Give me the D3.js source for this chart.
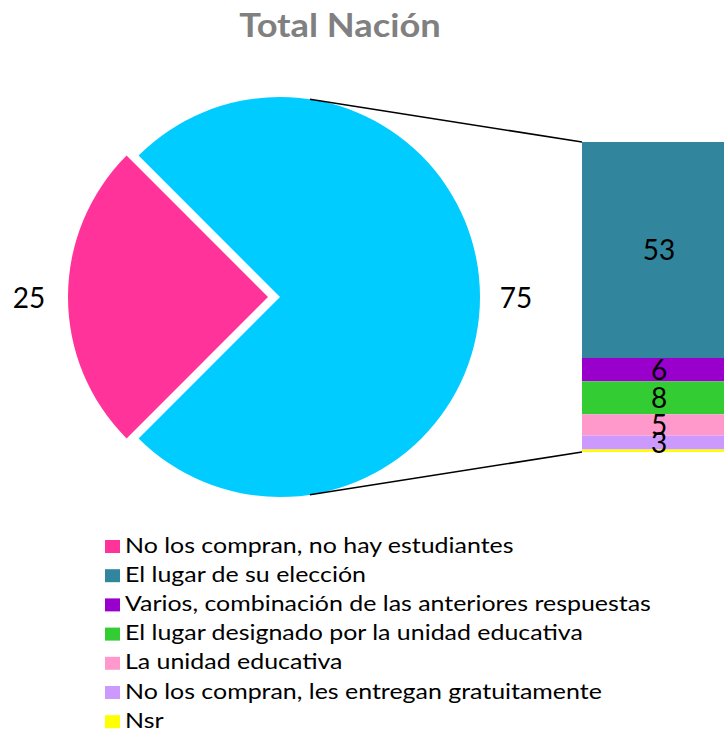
<!DOCTYPE html>
<html><head><meta charset="utf-8">
<script src="https://cdn.jsdelivr.net/npm/d3@7"></script>
<style>body{margin:0;background:#fff}</style>
</head><body>
<svg id="c" width="724" height="734"></svg>
<script>
const title = "Total Nación";
const pieCategories = ["No los compran, no hay estudiantes", "Otros"];
const pieValues = [25, 75];
const pieColors = ["#FF3399", "#00CCFF"];
const barCategories = ["El lugar de su elección", "Varios, combinación de las anteriores respuestas", "El lugar designado por la unidad educativa", "La unidad educativa", "No los compran, les entregan gratuitamente", "Nsr"];
const barValues = [52.6, 5.7, 8.0, 5.2, 3.4, 0.6];
const barLabels = ["53", "6", "8", "5", "3", ""];
const barColors = ["#31859C", "#9900CC", "#33CC33", "#FF99CC", "#CC99FF", "#FFFF00"];
const legendLabels = ["No los compran, no hay estudiantes", ...barCategories];
const legendColors = ["#FF3399", ...barColors];

const svg = d3.select("#c");
const font = "Lato, 'Open Sans', sans-serif";

function stretchedText(parent, x, y, sx, txt) {
  return parent.append("text")
    .attr("transform", `translate(${x},${y}) scale(${sx},1)`)
    .attr("font-family", font).text(txt);
}

stretchedText(svg, 340, 37, 1.1, title).attr("text-anchor", "middle")
  .attr("font-weight", "bold").attr("font-size", 33).attr("fill", "#808080");

// Pie
const cx = 280, cy = 297, R = 200;
const arcs = d3.pie().sort(null).startAngle(5*Math.PI/4).endAngle(5*Math.PI/4 + 2*Math.PI)(pieValues);
const arc = d3.arc().innerRadius(0).outerRadius(R);
const g = svg.append("g").attr("transform", `translate(${cx},${cy})`);
g.selectAll("path").data(arcs).join("path")
  .attr("d", arc)
  .attr("fill", (d, i) => pieColors[i])
  .attr("transform", (d, i) => {
    if (i !== 0) return null;
    const mid = (d.startAngle + d.endAngle) / 2;
    const off = 12;
    return `translate(${off*Math.sin(mid)},${-off*Math.cos(mid)})`;
  });

// pie labels
svg.append("text").attr("x", 29).attr("y", 308).attr("text-anchor", "middle")
  .attr("font-family", font).attr("font-size", 28).text(String(pieValues[0]));
svg.append("text").attr("x", 516).attr("y", 308).attr("text-anchor", "middle")
  .attr("font-family", font).attr("font-size", 28).text(String(pieValues[1]));

// Bar of pie
const total = d3.sum(barValues);
const y = d3.scaleLinear().domain([0, total]).range([142, 452]);
const bx = 582, bw = 160;
let cum = 0;
const stacks = barValues.map((v, i) => { const s = {v, i, y0: cum, y1: cum + v}; cum += v; return s; });
svg.selectAll("rect.seg").data(stacks).join("rect").attr("class", "seg")
  .attr("x", bx).attr("width", bw)
  .attr("y", d => y(d.y0)).attr("height", d => y(d.y1) - y(d.y0))
  .attr("fill", d => barColors[d.i]);
svg.selectAll("text.seg").data(stacks.filter(d => barLabels[d.i])).join("text").attr("class", "seg")
  .attr("x", 659).attr("y", d => (y(d.y0) + y(d.y1)) / 2 + 10)
  .attr("text-anchor", "middle").attr("font-family", font).attr("font-size", 28)
  .text(d => barLabels[d.i]);

// connector lines
const a1 = 8.6 * Math.PI / 180, a2 = 171.4 * Math.PI / 180;
svg.append("line").attr("x1", cx + R*Math.sin(a1)).attr("y1", cy - R*Math.cos(a1))
  .attr("x2", bx).attr("y2", y(0)).attr("stroke", "#000").attr("stroke-width", 1.5);
svg.append("line").attr("x1", cx + R*Math.sin(a2)).attr("y1", cy - R*Math.cos(a2))
  .attr("x2", bx).attr("y2", y(total)).attr("stroke", "#000").attr("stroke-width", 1.5);

// legend
const lg = svg.append("g");
legendLabels.forEach((t, i) => {
  const yy = 546 + i * 29.2;
  lg.append("rect").attr("x", 105).attr("y", yy - 6).attr("width", 15).attr("height", 13).attr("fill", legendColors[i]);
  stretchedText(lg, 125, yy + 6.5, 1.16, t).attr("font-size", 21.5).attr("fill", "#000");
});
</script>
</body></html>
